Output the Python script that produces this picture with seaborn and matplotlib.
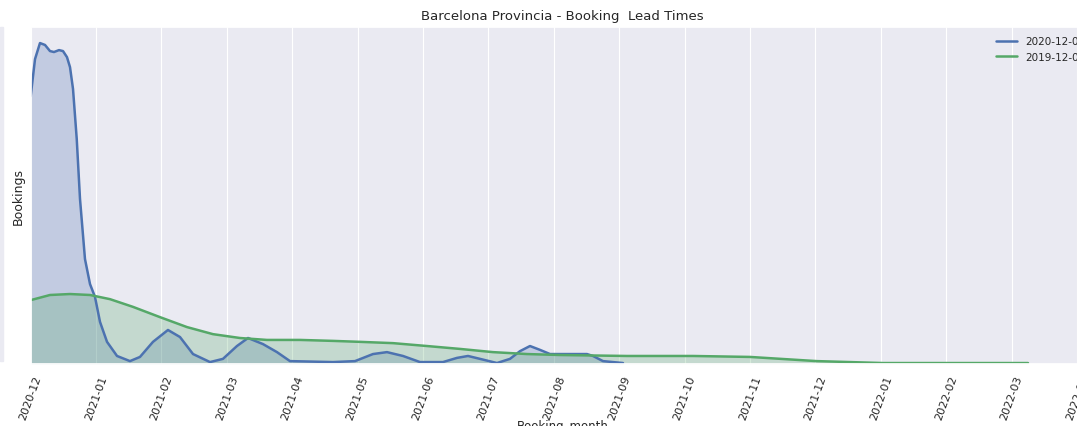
import pandas as pd
import matplotlib.pyplot as plt
from matplotlib.patches import Rectangle
import seaborn as sns

# months since 2020-12 (x) and relative booking density (y)
month_2020 = [0.00, 0.066, 0.142, 0.219, 0.295, 0.356, 0.433, 0.494, 0.555, 0.601,
              0.647, 0.704, 0.754, 0.830, 0.907, 0.983, 1.060, 1.167, 1.320, 1.518,
              1.671, 1.870, 2.099, 2.283, 2.482, 2.742, 2.940, 3.154, 3.323, 3.552,
              3.766, 3.965, 4.622, 4.959, 5.234, 5.448, 5.693, 5.953, 6.304, 6.518,
              6.687, 6.870, 7.130, 7.329, 7.482, 7.635, 7.788, 7.941, 8.201, 8.506,
              8.598, 8.751, 9.057]
dens_2020 = [0.835, 0.950, 1.000, 0.994, 0.975, 0.972, 0.978, 0.975, 0.956, 0.925,
             0.857, 0.701, 0.514, 0.327, 0.249, 0.209, 0.131, 0.069, 0.025, 0.009,
             0.022, 0.069, 0.106, 0.084, 0.031, 0.006, 0.016, 0.056, 0.081, 0.062,
             0.037, 0.009, 0.006, 0.009, 0.031, 0.037, 0.025, 0.006, 0.006, 0.019,
             0.025, 0.016, 0.003, 0.016, 0.040, 0.056, 0.044, 0.031, 0.031, 0.031,
             0.025, 0.009, 0.003]

month_2019 = [0.00, 0.295, 0.601, 0.907, 1.213, 1.564, 1.977, 2.390, 2.787, 3.200,
              3.613, 4.118, 4.622, 5.035, 5.540, 6.060, 6.564, 7.069, 7.589, 8.093,
              9.118, 10.127, 11.00, 12.02, 12.53, 13.03, 13.80, 15.25]
dens_2019 = [0.199, 0.215, 0.218, 0.215, 0.202, 0.178, 0.146, 0.115, 0.093, 0.081,
             0.075, 0.075, 0.072, 0.069, 0.065, 0.056, 0.047, 0.037, 0.031, 0.028,
             0.025, 0.025, 0.022, 0.009, 0.006, 0.003, 0.003, 0.003]

series_labels = ["2020-12-08", "2019-12-08"]
month_labels = ["2020-12", "2021-01", "2021-02", "2021-03", "2021-04", "2021-05",
                "2021-06", "2021-07", "2021-08", "2021-09", "2021-10", "2021-11",
                "2021-12", "2022-01", "2022-02", "2022-03", "2022-04"]

df = pd.concat([
    pd.DataFrame({"Booking_month": month_2020, "Bookings": dens_2020, "start": series_labels[0]}),
    pd.DataFrame({"Booking_month": month_2019, "Bookings": dens_2019, "start": series_labels[1]}),
])

sns.set_theme(style="darkgrid", rc={"grid.linewidth": 0.8})
plt.rcParams["font.family"] = ["DejaVu Sans"]
colors = sns.color_palette("deep")
pal = {series_labels[0]: colors[0], series_labels[1]: colors[2]}

fig = plt.figure(figsize=(10.77, 4.27), dpi=100)
# axes deliberately runs past the right edge, like the cropped screenshot
ax = fig.add_axes([30.7 / 1077, 62 / 427, 1064 / 1077, 337 / 427])

sns.lineplot(data=df, x="Booking_month", y="Bookings", hue="start", palette=pal,
             linewidth=1.8, ax=ax)
for lab in series_labels:
    d = df[df["start"] == lab]
    ax.fill_between(d["Booking_month"], d["Bookings"], color=pal[lab], alpha=0.25, lw=0)

ax.set_xlim(0, 16.27)
ax.set_ylim(0, 1.05)
ax.set_yticks([])
ax.set_xticks(range(len(month_labels)))
ax.set_xticklabels(month_labels, rotation=70, fontsize=8)
ax.tick_params(axis="x", pad=1)
ax.set_xlabel("Booking_month", fontsize=8.5, labelpad=-1)
ax.set_ylabel("Bookings", fontsize=9)
ax.set_title("Barcelona Provincia - Booking  Lead Times", fontsize=9.5)
ax.legend(loc="upper right", fontsize=7.5, title=None, frameon=False)

# sliver of the neighbouring panel at the far left
fig.patches.append(Rectangle((0, 65 / 427), 3 / 1077, 334 / 427,
                             transform=fig.transFigure, color="#eaeaf2", zorder=0))

fig.savefig("out.png", dpi=100)
